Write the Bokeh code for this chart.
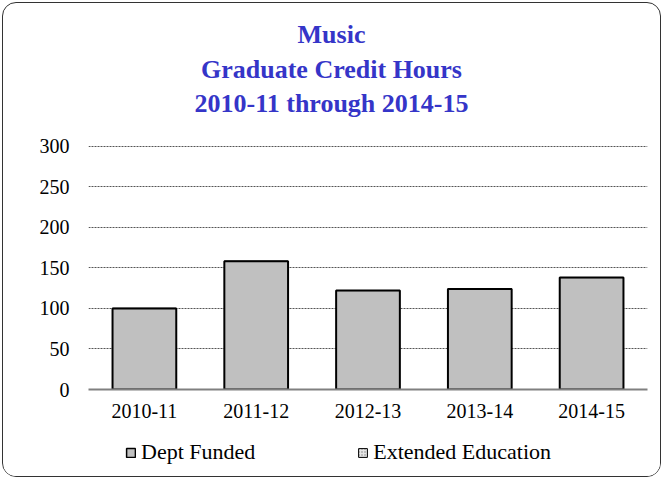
from bokeh.plotting import figure
from bokeh.models import (ColumnDataSource, Legend, LegendItem, FixedTicker,
                          Range1d, Div)
from bokeh.layouts import column
from bokeh.embed import file_html
from bokeh.resources import INLINE

years = ["2010-11", "2011-12", "2012-13", "2013-14", "2014-15"]
dept_funded = [100, 158, 122, 124, 138]
extended_education = [0, 0, 0, 0, 0]
y_ticks = [0, 50, 100, 150, 200, 250, 300]
title_lines = ["Music", "Graduate Credit Hours", "2010-11 through 2014-15"]
series_names = ["Dept Funded", "Extended Education"]

SERIF = "Liberation Serif"
W = 657
BL, BR = 85, 13

src = ColumnDataSource(dict(
    year=years,
    dept=dept_funded,
    ext_bottom=dept_funded,
    ext_top=[d + e for d, e in zip(dept_funded, extended_education)],
))

title_html = ('<div style="padding-top:15px; text-align:center; color:#3535C8; '
              "font-family:'Liberation Serif', serif; font-size:26px; "
              f'font-weight:bold; line-height:34.5px; width:{W}px;">'
              + "<br>".join(title_lines) + "</div>")
title_div = Div(text=title_html, width=W, height=130, margin=0)

p = figure(x_range=years, y_range=Range1d(0, 300.8), width=W, height=298,
           output_backend="svg", toolbar_location=None,
           min_border_left=BL, min_border_right=BR,
           min_border_top=12, min_border_bottom=42, margin=0)

bar_style = dict(fill_color="#c0c0c0", line_color="black", line_width=2)
ext_style = dict(fill_color="#e6e6e6", line_color="black", line_width=1,
                 hatch_pattern="dot", hatch_color="#808080", hatch_scale=3)

p.vbar(x="year", top="dept", width=0.57, source=src, **bar_style)
p.vbar(x="year", bottom="ext_bottom", top="ext_top", width=0.57, source=src,
       **ext_style)

p.outline_line_color = None
p.background_fill_color = "white"
p.border_fill_color = "white"
p.xgrid.grid_line_color = None
p.ygrid.grid_line_color = "#555555"
p.ygrid.grid_line_dash = "2 1"
p.ygrid.grid_line_width = 1

p.yaxis.ticker = FixedTicker(ticks=y_ticks)
p.yaxis.axis_line_color = None
p.yaxis.major_tick_line_color = None
p.yaxis.minor_tick_line_color = None
p.yaxis.major_label_standoff = 13
p.yaxis.major_label_text_font = SERIF
p.yaxis.major_label_text_font_size = "20px"
p.yaxis.major_label_text_color = "black"

p.xaxis.axis_line_color = "#808080"
p.xaxis.axis_line_width = 2
p.xaxis.major_tick_line_color = None
p.xaxis.minor_tick_line_color = None
p.xaxis.major_label_standoff = 8
p.xaxis.major_label_text_font = SERIF
p.xaxis.major_label_text_font_size = "20px"
p.xaxis.major_label_text_color = "black"

# legend strip (same side borders so frames align)
pl = figure(width=W, height=45, x_range=Range1d(0, 1), y_range=Range1d(0, 1),
            output_backend="svg", toolbar_location=None,
            min_border_left=BL, min_border_right=BR, min_border_top=0,
            min_border_bottom=0, margin=0)
pl.axis.visible = False
pl.grid.visible = False
pl.outline_line_color = None
pl.border_fill_color = "white"
proxy = ColumnDataSource(dict(x=[float("nan")], top=[float("nan")]))
l1 = pl.vbar(x="x", top="top", width=0.5, source=proxy,
             fill_color="#c0c0c0", line_color="black", line_width=1.5)
l2 = pl.vbar(x="x", top="top", width=0.5, source=proxy, **ext_style)
legend = Legend(items=[LegendItem(label=series_names[0], renderers=[l1]),
                       LegendItem(label=series_names[1], renderers=[l2])],
                orientation="horizontal", location=(37, 11),
                label_text_font=SERIF, label_text_font_size="22px",
                label_text_color="black",
                glyph_width=11, glyph_height=11, label_standoff=5,
                spacing=102, border_line_color=None, background_fill_alpha=0,
                padding=0, margin=0)
pl.add_layout(legend, "center")

layout = column(title_div, p, pl, spacing=0,
                styles={"border": "1px solid #333333", "border-radius": "14px",
                        "margin": "2px", "background-color": "white",
                        "overflow": "hidden"})

open("out.html", "w").write(file_html(layout, INLINE))
